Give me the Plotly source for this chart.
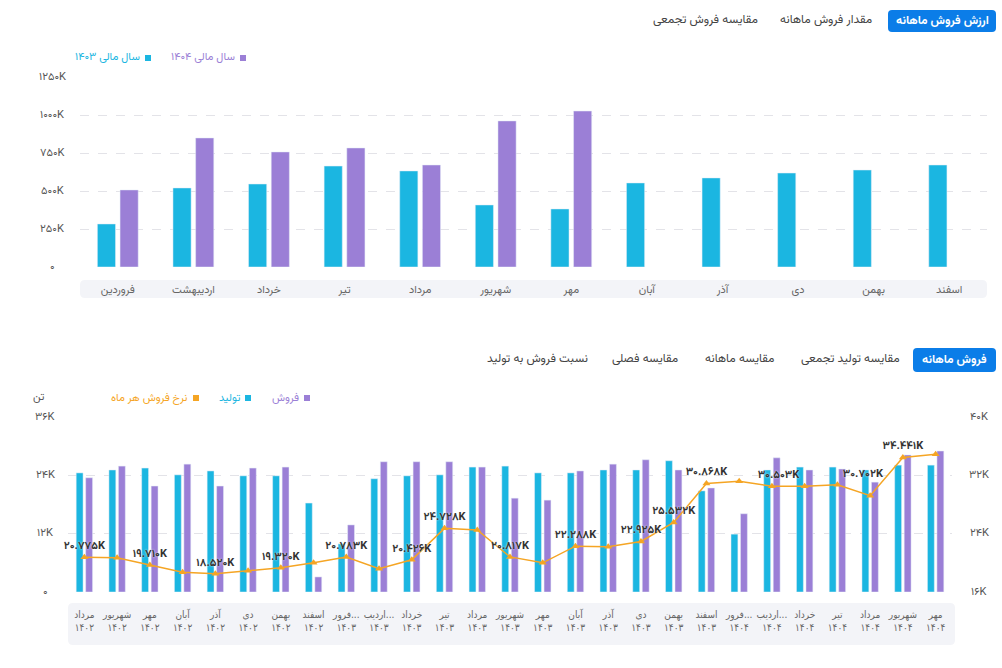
import plotly.graph_objects as go

W, H = 1002, 668

# ---------------- data ----------------
months_top = ["فروردین", "اردیبهشت", "خرداد", "تیر", "مرداد", "شهریور",
              "مهر", "آبان", "آذر", "دی", "بهمن", "اسفند"]
value_1403 = [283, 520, 546, 664, 632, 408, 382, 553, 586, 618, 638, 671]   # K
value_1404 = [507, 849, 757, 783, 671, 961, 1026, None, None, None, None, None]
top_ticks = [0, 250, 500, 750, 1000, 1250]

bottom_months = ["مرداد", "شهریور", "مهر", "آبان", "آذر", "دی", "بهمن", "اسفند",
                 "فرور...", "اردیب...", "خرداد", "تیر", "مرداد", "شهریور", "مهر", "آبان",
                 "آذر", "دی", "بهمن", "اسفند",
                 "فرور...", "اردیب...", "خرداد", "تیر", "مرداد", "شهریور", "مهر"]
bottom_years = ["1402"] * 8 + ["1403"] * 12 + ["1404"] * 7
production = [24.5, 25.1, 25.5, 24.1, 24.9, 23.9, 23.9, 18.3, 9.9, 23.3, 23.9, 24.1,
              25.7, 25.9, 24.5, 24.5, 25.1, 25.1, 27.0, 20.8, 11.9, 25.1, 25.7, 25.7,
              25.1, 26.1, 26.1]
sales = [23.5, 25.9, 21.8, 26.3, 21.8, 25.5, 25.7, 3.1, 13.8, 26.8, 26.8, 26.8,
         25.7, 19.3, 18.9, 24.9, 26.3, 27.2, 25.1, 21.4, 16.1, 27.6, 25.1, 25.3,
         22.6, 28.2, 29.0]
rate = [20.775, 20.7, 19.710, 18.7, 18.520, 18.9, 19.320, 20.0, 20.783, 19.2, 20.426,
        24.728, 24.5, 20.817, 20.0, 22.288, 22.2, 22.925, 25.532, 30.868, 31.2, 30.5,
        30.503, 30.702, 29.2, 34.441, 34.9]
rate_labelled = [0, 2, 4, 6, 8, 10, 11, 13, 15, 17, 18, 19, 22, 23, 25]
left_ticks = [0, 12, 24, 36]
right_ticks = [16, 24, 32, 40]

# ---------------- helpers ----------------
FA = str.maketrans("0123456789", "۰۱۲۳۴۵۶۷۸۹")


def fa(s):
    return str(s).translate(FA)


def kfmt(v):
    return "۰" if v == 0 else fa(v) + "K"


def X(p):
    return p / W


def Y(p):
    return 1 - p / H


def rrect(x0, y0, x1, y1, r):
    pts = [
        f"M {X(x0 + r)} {Y(y0)}", f"L {X(x1 - r)} {Y(y0)}", f"Q {X(x1)} {Y(y0)} {X(x1)} {Y(y0 + r)}",
        f"L {X(x1)} {Y(y1 - r)}", f"Q {X(x1)} {Y(y1)} {X(x1 - r)} {Y(y1)}",
        f"L {X(x0 + r)} {Y(y1)}", f"Q {X(x0)} {Y(y1)} {X(x0)} {Y(y1 - r)}",
        f"L {X(x0)} {Y(y0 + r)}", f"Q {X(x0)} {Y(y0)} {X(x0 + r)} {Y(y0)} Z"]
    return " ".join(pts)


FONT = "Vazirmatn, DejaVu Sans, sans-serif"
COND = "DejaVu Sans Condensed, DejaVu Sans, sans-serif"
CYAN = "#1bb6e1"
PURPLE = "#9b7fd6"
ORANGE = "#f5a524"
GRID = "#e3e3e8"
TXT = "#555555"

fig = go.Figure()

# ---------------- top chart ----------------
fig.add_bar(x=months_top, y=value_1403, name="سال مالی ۱۴۰۳", marker_color=CYAN,
            width=0.24, offset=-0.27, xaxis="x", yaxis="y")
fig.add_bar(x=months_top, y=value_1404, name="سال مالی ۱۴۰۴", marker_color=PURPLE,
            width=0.24, offset=0.03, xaxis="x", yaxis="y")

# ---------------- bottom chart ----------------
cats = [f"{m}<br>{fa(y)}" for m, y in zip(bottom_months, bottom_years)]
cat_ids = list(range(len(cats)))
fig.add_bar(x=cat_ids, y=production, name="تولید", marker_color=CYAN,
            width=0.21, offset=-0.25, xaxis="x2", yaxis="y2")
fig.add_bar(x=cat_ids, y=sales, name="فروش", marker_color=PURPLE,
            width=0.21, offset=0.04, xaxis="x2", yaxis="y2")

rate_text = [(fa(f"{v:.3f}") + "K") if i in rate_labelled else "" for i, v in enumerate(rate)]
rate_pos = ["top center"] * len(rate)
rate_pos[22] = "top left"
rate_pos[23] = "top right"
fig.add_scatter(x=cat_ids, y=rate, name="نرخ فروش هر ماه", mode="lines+markers+text",
                line=dict(color=ORANGE, width=1.5),
                marker=dict(symbol="triangle-up", size=7, color=ORANGE),
                text=rate_text, textposition=rate_pos,
                textfont=dict(size=11, color="#333333", family=FONT, weight="bold",
                              shadow="0px 0px 2px #ffffff"),
                xaxis="x2", yaxis="y3", cliponaxis=False)

shapes = []
annotations = []

# category bands
shapes.append(dict(type="path", path=rrect(80, 280, 987, 298, 5), xref="paper", yref="paper",
                   fillcolor="#f3f4f8", line=dict(width=0), layer="below"))
shapes.append(dict(type="path", path=rrect(68, 603, 955, 645, 5), xref="paper", yref="paper",
                   fillcolor="#f3f4f8", line=dict(width=0), layer="below"))

# y tick labels (centered like the reference)
for v in top_ticks:
    annotations.append(dict(x=X(52), y=v, xref="paper", yref="y", text=kfmt(v), showarrow=False,
                            xanchor="center", yanchor="middle", font=dict(size=11, color=TXT, family=FONT)))
for v in left_ticks:
    annotations.append(dict(x=X(45), y=v, xref="paper", yref="y2", text=kfmt(v), showarrow=False,
                            xanchor="center", yanchor="middle", font=dict(size=11, color=TXT, family=FONT)))
for v in right_ticks:
    annotations.append(dict(x=X(979), y=v, xref="paper", yref="y3", text=kfmt(v), showarrow=False,
                            xanchor="center", yanchor="middle", font=dict(size=11, color=TXT, family=FONT)))
annotations.append(dict(x=X(39), y=Y(397), xref="paper", yref="paper", text="تن", showarrow=False,
                        xanchor="center", yanchor="middle", font=dict(size=11, color=TXT, family=FONT)))


# legends (custom, RTL)
def legend_item(sq_x, y, text, color, text_right):
    shapes.append(dict(type="rect", xref="paper", yref="paper", x0=X(sq_x - 3), x1=X(sq_x + 3),
                       y0=Y(y + 3), y1=Y(y - 3), fillcolor=color, line=dict(width=0)))
    annotations.append(dict(x=X(text_right), y=Y(y), xref="paper", yref="paper", text=text,
                            showarrow=False, xanchor="right", yanchor="middle",
                            font=dict(size=11, color=color, family=FONT)))


legend_item(243, 58, "سال مالی ۱۴۰۴", PURPLE, 237)
legend_item(148, 58, "سال مالی ۱۴۰۳", CYAN, 142)
legend_item(307, 398, "فروش", PURPLE, 301)
legend_item(248, 398, "تولید", CYAN, 243)
legend_item(196, 398, "نرخ فروش هر ماه", ORANGE, 189)


# tabs
def button(x0, y0, x1, y1, text):
    shapes.append(dict(type="path", path=rrect(x0, y0, x1, y1, 4), xref="paper", yref="paper",
                       fillcolor="#0b7de8", line=dict(width=0)))
    annotations.append(dict(x=X((x0 + x1) / 2), y=Y((y0 + y1) / 2), xref="paper", yref="paper",
                            text=text, showarrow=False, xanchor="center", yanchor="middle",
                            font=dict(size=12, color="#ffffff", family=FONT, weight="bold")))


def tab(cx, cy, text):
    annotations.append(dict(x=X(cx), y=Y(cy), xref="paper", yref="paper", text=text,
                            showarrow=False, xanchor="center", yanchor="middle",
                            font=dict(size=12, color="#444444", family=FONT)))


button(888, 10, 996, 32, "ارزش فروش ماهانه")
tab(826, 20, "مقدار فروش ماهانه")
tab(705, 20, "مقایسه فروش تجمعی")
button(913, 348, 996, 372, "فروش ماهانه")
tab(850, 359, "مقایسه تولید تجمعی")
tab(740, 359, "مقایسه ماهانه")
tab(645, 359, "مقایسه فصلی")
tab(537, 359, "نسبت فروش به تولید")

fig.update_layout(
    width=W, height=H, autosize=False,
    margin=dict(l=0, r=0, t=0, b=0),
    paper_bgcolor="#ffffff", plot_bgcolor="#ffffff",
    showlegend=False, barmode="group",
    font=dict(family=FONT, size=11, color=TXT),
    shapes=shapes, annotations=annotations,
    xaxis=dict(domain=[X(80), X(987)], anchor="y", showgrid=False, showline=False, ticks="",
               tickfont=dict(size=11, color="#666666"), ticklabelstandoff=14, fixedrange=True),
    yaxis=dict(domain=[Y(267), Y(77)], anchor="x", range=[0, 1250], tickvals=top_ticks,
               showticklabels=False, showgrid=True, gridcolor=GRID, griddash="dash",
               zeroline=False, showline=False),
    xaxis2=dict(domain=[X(68), X(952)], anchor="y2", showgrid=False, showline=False, ticks="",
                tickmode="array", tickvals=cat_ids, ticktext=cats, range=[-0.5, len(cats) - 0.5],
                tickfont=dict(size=10, color="#666666", family=COND), ticklabelstandoff=15,
                tickangle=0),
    yaxis2=dict(domain=[Y(592), Y(417)], anchor="x2", range=[0, 36], tickvals=left_ticks,
                showticklabels=False, showgrid=True, gridcolor=GRID, griddash="dash",
                zeroline=False, showline=False),
    yaxis3=dict(overlaying="y2", side="right", anchor="x2", range=[16, 40], tickvals=right_ticks,
                showticklabels=False, showgrid=False, zeroline=False, showline=False),
)

fig.write_html("out.html")
